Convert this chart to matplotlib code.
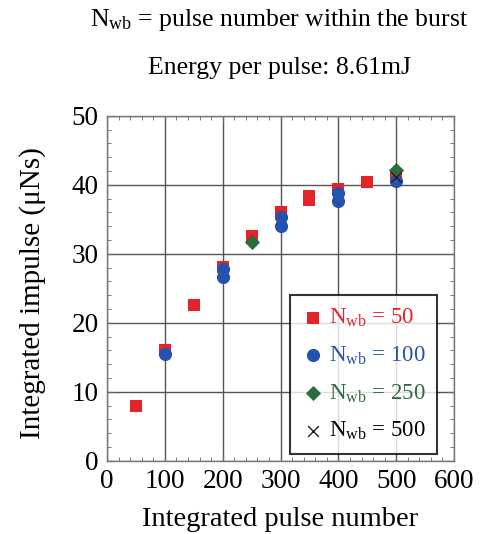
import matplotlib
matplotlib.use("Agg")
import matplotlib.pyplot as plt
from matplotlib.ticker import MultipleLocator

plt.rcParams['font.family'] = ['Liberation Serif', 'DejaVu Serif']
plt.rcParams['mathtext.fontset'] = 'custom'
plt.rcParams['mathtext.rm'] = 'Liberation Serif'
plt.rcParams['mathtext.it'] = 'Liberation Serif:italic'

# Data
x50 = [50, 100, 150, 200, 250, 300, 350, 350, 400, 450, 500]
y50 = [7.9, 16.1, 22.6, 28.1, 32.6, 36.1, 37.8, 38.4, 39.4, 40.4, 41.4]
x100 = [100, 200, 200, 300, 300, 400, 400, 500]
y100 = [15.5, 27.8, 26.6, 35.4, 34.1, 38.8, 37.7, 40.6]
x250 = [250, 500]
y250 = [31.7, 42.2]
x500 = [500]
y500 = [41.2]

c_red = '#e3242b'
c_blue = '#2452ad'
c_green = '#2e6b3c'

fig = plt.figure(figsize=(4.82, 5.34), dpi=100)
ax = fig.add_axes([0.222, 0.137, 0.720, 0.646])

ax.scatter(x50, y50, marker='s', s=85, color=c_red, zorder=3, label=r'N$_{\mathrm{wb}}$ = 50', linewidths=0)
ax.scatter(x100, y100, marker='o', s=90, color=c_blue, zorder=4, label=r'N$_{\mathrm{wb}}$ = 100', linewidths=0)
ax.scatter(x250, y250, marker='D', s=60, color=c_green, zorder=5, label=r'N$_{\mathrm{wb}}$ = 250', linewidths=0)
ax.scatter(x500, y500, marker='x', s=60, color='#222222', zorder=6, label=r'N$_{\mathrm{wb}}$ = 500', linewidths=1.0)

ax.set_xlim(0, 600)
ax.set_ylim(0, 50)
ax.xaxis.set_major_locator(MultipleLocator(100))
ax.xaxis.set_minor_locator(MultipleLocator(20))
ax.yaxis.set_major_locator(MultipleLocator(10))
ax.yaxis.set_minor_locator(MultipleLocator(2))
ax.tick_params(which='both', direction='in', top=True, right=True, color='#666666')
ax.tick_params(which='major', length=5, labelsize=19.5, pad=6)
ax.tick_params(which='minor', length=3)
ax.grid(True, which='major', color='#555555', linewidth=1.0)
ax.set_axisbelow(True)
for s in ax.spines.values():
    s.set_color('#777777')
    s.set_linewidth(1.0)

ax.set_xlabel('Integrated pulse number', fontsize=20.5, labelpad=9)
ax.set_ylabel('Integrated impulse (μNs)', fontsize=21)
ax.yaxis.set_label_coords(-0.176, 0.487)

leg = ax.legend(loc='lower right', bbox_to_anchor=(0.952, 0.02), fontsize=16.5,
                frameon=True, fancybox=False, edgecolor='black',
                handletextpad=0.2, handlelength=1.0, labelspacing=0.68,
                borderpad=0.5, borderaxespad=0)
leg.get_frame().set_linewidth(1.5)
for t, c in zip(leg.get_texts(), [c_red, c_blue, c_green, 'black']):
    t.set_color(c)

fig.text(0.579, 0.962, r'N$_{\mathrm{wb}}$ = pulse number within the burst', fontsize=18.5,
         ha='center', va='center')
fig.text(0.580, 0.872, 'Energy per pulse: 8.61mJ', fontsize=18.5, ha='center', va='center')

fig.savefig('out.png', dpi=100)
